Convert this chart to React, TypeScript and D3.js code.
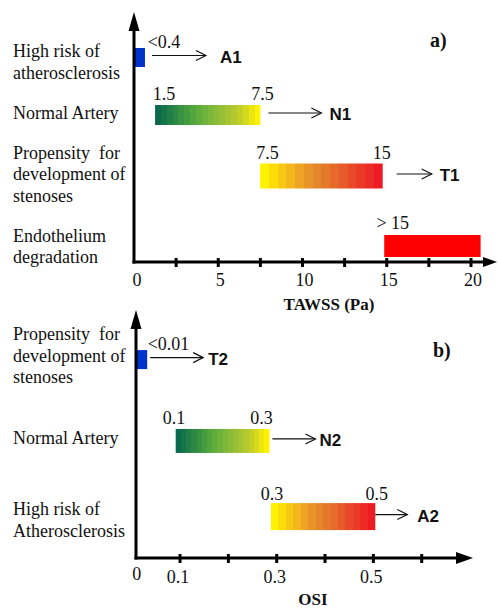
import React from 'react';
import * as d3 from 'd3';

const W = 498;
const H = 608;

// ---------- Panel a) TAWSS ----------
const tawssCategories: string[][] = [
  ['High risk of', 'atherosclerosis'],
  ['Normal Artery'],
  ['Propensity  for', 'development of', 'stenoses'],
  ['Endothelium', 'degradation'],
];
const tawssStart = [0, 1.25, 7.48, 14.85];
const tawssEnd = [0.65, 7.5, 14.76, 20.57];
const tawssRangeLabels: [string, string][] = [['<0.4', ''], ['1.5', '7.5'], ['7.5', '15'], ['> 15', '']];
const tawssOutcomes = ['A1', 'N1', 'T1', ''];
const tawssLevels = [8.18, 5.88, 3.44, 0.64];
const tawssLabelLevels = [7.76, 5.72, 3.28, 0.38];
const tawssFills = ['blue', 'green', 'warm', 'red'];
const tawssTicks = [2.5, 5, 7.5, 10, 12.5, 15, 17.5, 20];
const tawssTickLabels = [0, 5, 10, 15, 20];

// ---------- Panel b) OSI ----------
const osiCategories: string[][] = [
  ['Propensity  for', 'development of', 'stenoses'],
  ['Normal Artery'],
  ['High risk of', 'Atherosclerosis'],
];
const osiStart = [0.01, 0.091, 0.288];
const osiEnd = [0.032, 0.285, 0.504];
const osiRangeLabels: [string, string][] = [['<0.01', ''], ['0.1', '0.3'], ['0.3', '0.5']];
const osiOutcomes = ['T2', 'N2', 'A2'];
const osiLevels = [8.0, 4.72, 1.67];
const osiLabelLevels = [7.92, 4.6, 1.29];
const osiFills = ['blue', 'green', 'warm'];
const osiTicks = [0.1, 0.2, 0.3, 0.4, 0.5, 0.6];
const osiTickLabels = [0, 0.1, 0.3, 0.5];

// ---------- styles ----------
const SERIF = 'Liberation Serif, Tinos, Times New Roman, DejaVu Serif, serif';
const SANS = 'Liberation Sans, Arimo, Arial, DejaVu Sans, sans-serif';
const GREEN_ANCHORS = ['#0c6a4c', '#2f8c42', '#5caf3c', '#8fbe39', '#b7c832', '#fff200'];
const WARM_ANCHORS = ['#fff200', '#f6bc1b', '#e58f2d', '#e3702c', '#eb412a', '#ed1c24'];

function bandStops(anchors: string[], n: number) {
  const interp = d3.interpolateRgbBasis(anchors);
  const out: { o: number; c: string }[] = [];
  for (let i = 0; i < n; i++) {
    const c = d3.color(interp(i / (n - 1)))!.formatHex();
    out.push({ o: i / n, c }, { o: (i + 1) / n, c });
  }
  return out;
}

type PanelStyle = {
  barH: number[];
  startDx: number[];
  endDx: number[];
  labelGap: number[];
  arrowGap: number[];
  arrowLen: number[];
  outcomeGap: number[];
};

type PanelProps = {
  categories: string[][];
  start: number[];
  end: number[];
  rangeLabels: [string, string][];
  outcomes: string[];
  levels: number[];
  labelLevels: number[];
  fills: string[];
  ticks: number[];
  tickLabels: number[];
  xDomain: [number, number];
  xRange: [number, number];
  yRange: [number, number];
  axisX: number;
  arrowTipX: number;
  arrowHalf: number;
  arrowLenX: number;
  tickLabelY: number;
  zeroLabelY: number;
  zeroDx: number;
  tickDx: number;
  title: string;
  titleX: number;
  titleY: number;
  tag: string;
  tagX: number;
  tagY: number;
  st: PanelStyle;
  id: string;
};

const serifStyle: React.CSSProperties = { fontFamily: SERIF };
const sansStyle: React.CSSProperties = { fontFamily: SANS };

function Panel(p: PanelProps) {
  const x = d3.scaleLinear().domain(p.xDomain).range(p.xRange);
  const y = d3.scaleLinear().domain([0, 10]).range(p.yRange);
  const oy = p.yRange[0];
  const top = p.yRange[1];
  const ox = p.axisX;
  const fillOf = (f: string) => {
    if (f === 'blue') return '#0033cc';
    if (f === 'red') return '#ff0000';
    return `url(#${p.id}-${f})`;
  };
  const fmt = (v: number) => (v === 0 ? '0' : String(v));
  return (
    <g>
      <defs>
        <linearGradient id={`${p.id}-green`} x1="0" x2="1" y1="0" y2="0">
          {bandStops(GREEN_ANCHORS, 18).map((s, i) => (
            <stop key={i} offset={s.o} stopColor={s.c} />
          ))}
        </linearGradient>
        <linearGradient id={`${p.id}-warm`} x1="0" x2="1" y1="0" y2="0">
          {bandStops(WARM_ANCHORS, 14).map((s, i) => (
            <stop key={i} offset={s.o} stopColor={s.c} />
          ))}
        </linearGradient>
      </defs>

      {/* row labels */}
      {p.categories.map((lines, i) => {
        const lh = 21.5;
        const mid = y(p.labelLevels[i]);
        return (
          <text key={'c' + i} style={serifStyle} fontSize={18} fill="#111">
            {lines.map((ln, j) => (
              <tspan key={j} x={13} y={mid + (j - (lines.length - 1) / 2) * lh} style={{ whiteSpace: 'pre' }}>
                {ln}
              </tspan>
            ))}
          </text>
        );
      })}

      {/* bars */}
      {p.start.map((s, i) => {
        const cy = y(p.levels[i]);
        const h = p.st.barH[i];
        const x0 = x(s);
        const x1 = x(p.end[i]);
        const [l0, l1] = p.rangeLabels[i];
        const ay = cy - 2;
        const a0 = x1 + p.st.arrowGap[i];
        const a1 = a0 + p.st.arrowLen[i];
        return (
          <g key={'b' + i}>
            <rect x={x0} y={cy - h / 2} width={x1 - x0} height={h} fill={fillOf(p.fills[i])} />
            {l0 && (
              <text x={x0 + p.st.startDx[i]} y={cy - h / 2 - p.st.labelGap[i]} textAnchor="middle" style={serifStyle} fontSize={18} fill="#111">
                {l0}
              </text>
            )}
            {l1 && (
              <text x={x1 + p.st.endDx[i]} y={cy - h / 2 - p.st.labelGap[i]} textAnchor="middle" style={serifStyle} fontSize={18} fill="#111">
                {l1}
              </text>
            )}
            {p.outcomes[i] && (
              <g>
                <line x1={a0} x2={a1} y1={ay} y2={ay} stroke="#111" strokeWidth={1.2} />
                <polyline points={`${a1 - 10},${ay - 5} ${a1},${ay} ${a1 - 10},${ay + 5}`} fill="none" stroke="#111" strokeWidth={1.2} />
                <text x={a1 + p.st.outcomeGap[i]} y={ay + 7} style={sansStyle} fontWeight="bold" fontSize={17} fill="#111">
                  {p.outcomes[i]}
                </text>
              </g>
            )}
          </g>
        );
      })}

      {/* axes */}
      <line x1={ox} x2={ox} y1={oy + 1.5} y2={top + 16} stroke="#000" strokeWidth={3} />
      <polygon points={`${ox - 5.5},${top + 19} ${ox + 5.5},${top + 19} ${ox},${top}`} fill="#000" />
      <line x1={ox - 1.5} x2={p.arrowTipX - p.arrowLenX + 2} y1={oy} y2={oy} stroke="#000" strokeWidth={3} />
      <polygon
        points={`${p.arrowTipX - p.arrowLenX},${oy - p.arrowHalf} ${p.arrowTipX},${oy} ${p.arrowTipX - p.arrowLenX},${oy + p.arrowHalf}`}
        fill="#000"
      />
      {p.ticks.map((t, i) => (
        <line key={'t' + i} x1={x(t)} x2={x(t)} y1={oy - 4} y2={oy + 5} stroke="#000" strokeWidth={3} />
      ))}
      {p.tickLabels.map((t, i) => (
        <text
          key={'tl' + i}
          x={t === 0 ? x(t) + p.zeroDx : x(t) + p.tickDx}
          y={t === 0 ? p.zeroLabelY : p.tickLabelY}
          textAnchor="middle"
          style={serifStyle}
          fontSize={18}
          fill="#111"
        >
          {fmt(t)}
        </text>
      ))}
      <text x={p.titleX} y={p.titleY} textAnchor="middle" style={serifStyle} fontWeight="bold" fontSize={17} fill="#111">
        {p.title}
      </text>
      <text x={p.tagX} y={p.tagY} style={serifStyle} fontWeight="bold" fontSize={20} fill="#111">
        {p.tag}
      </text>
    </g>
  );
}

export default function App() {
  return (
    <svg
      width={W}
      height={H}
      viewBox={`0 0 ${W} ${H}`}
      style={{ position: 'absolute', left: 0, top: 0, background: '#fff', display: 'block' }}
    >
      <rect width={W} height={H} fill="#fff" />
      <Panel
        id="a"
        categories={tawssCategories}
        start={tawssStart}
        end={tawssEnd}
        rangeLabels={tawssRangeLabels}
        outcomes={tawssOutcomes}
        levels={tawssLevels}
        labelLevels={tawssLabelLevels}
        fills={tawssFills}
        ticks={tawssTicks}
        tickLabels={tawssTickLabels}
        xDomain={[0, 20]}
        xRange={[134, 471]}
        yRange={[262, 12]}
        axisX={134}
        arrowTipX={497}
        arrowHalf={5}
        arrowLenX={14}
        tickLabelY={286}
        zeroLabelY={286}
        zeroDx={3}
        tickDx={2}
        title="TAWSS (Pa)"
        titleX={329}
        titleY={310}
        tag="a)"
        tagX={430}
        tagY={47}
        st={{
          barH: [19, 20, 25, 22],
          startDx: [30, 9, 7.5, 8.5],
          endDx: [0, 2, -1, 0],
          labelGap: [0, 5, 5, 6],
          arrowGap: [7, 8, 14, 0],
          arrowLen: [54, 53, 35, 0],
          outcomeGap: [14, 8, 8, 0],
        }}
      />
      <Panel
        id="b"
        categories={osiCategories}
        start={osiStart}
        end={osiEnd}
        rangeLabels={osiRangeLabels}
        outcomes={osiOutcomes}
        levels={osiLevels}
        labelLevels={osiLabelLevels}
        fills={osiFills}
        ticks={osiTicks}
        tickLabels={osiTickLabels}
        xDomain={[0, 0.6]}
        xRange={[131.7, 421.7]}
        yRange={[558, 310]}
        axisX={136}
        arrowTipX={473}
        arrowHalf={6}
        arrowLenX={17}
        tickLabelY={583}
        zeroLabelY={580}
        zeroDx={5}
        tickDx={-2}
        title="OSI"
        titleX={313}
        titleY={605}
        tag="b)"
        tagX={433}
        tagY={357}
        st={{
          barH: [19, 24, 27],
          startDx: [32, -1.7, 1],
          endDx: [0, -8, 1.5],
          labelGap: [0, 5, 3],
          arrowGap: [3, 3, 0],
          arrowLen: [53, 43, 32],
          outcomeGap: [5, 4, 10],
        }}
      />
    </svg>
  );
}
